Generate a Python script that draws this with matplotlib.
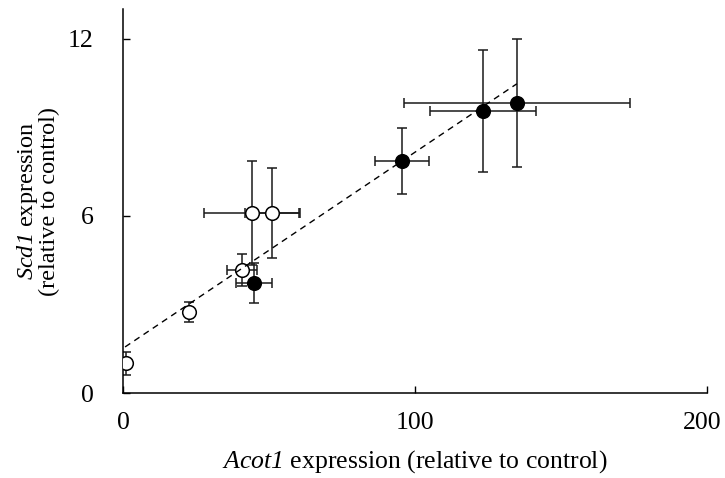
import matplotlib
matplotlib.use("Agg")
import matplotlib.pyplot as plt
from matplotlib.transforms import ScaledTranslation

# ---- data ----
open_x = [1.0, 22.6, 40.8, 44.2, 51.0]
open_y = [1.0, 2.75, 4.17, 6.1, 6.1]
open_xerr = [0.0, 0.0, 5.1, 16.5, 9.3]
open_yerr = [0.4, 0.33, 0.55, 1.76, 1.52]

filled_x = [44.9, 95.5, 123.3, 134.9]
filled_y = [3.73, 7.86, 9.56, 9.83]
filled_xerr = [6.3, 9.2, 18.2, 38.8]
filled_yerr = [0.68, 1.12, 2.06, 2.17]

trend_x = [0.7, 134.9]
trend_y = [1.56, 10.47]

x_ticks = [0, 100, 200]
y_ticks = [0, 6, 12]

plt.rcParams['font.family'] = ['Liberation Serif', 'DejaVu Serif']
plt.rcParams['mathtext.fontset'] = 'custom'
plt.rcParams['mathtext.sf'] = 'Liberation Serif:italic'
plt.rcParams['mathtext.rm'] = 'Liberation Serif'

FS = 18.5

fig = plt.figure(figsize=(7.25, 4.78), dpi=100)
ax = fig.add_axes([0.1697, 0.1778, 0.975 - 0.1697, 0.981 - 0.1778])

ec = '#1a1a1a'
ax.errorbar(open_x, open_y, xerr=open_xerr, yerr=open_yerr, fmt='none',
            ecolor=ec, elinewidth=1.1, capsize=3.6, capthick=1.1, zorder=2)
ax.errorbar(filled_x, filled_y, xerr=filled_xerr, yerr=filled_yerr, fmt='none',
            ecolor=ec, elinewidth=1.1, capsize=3.6, capthick=1.1, zorder=2)
ax.plot(open_x, open_y, 'o', ms=9.8, mfc='white', mec='black', mew=1.1, zorder=3)
ax.plot(filled_x, filled_y, 'o', ms=9.8, mfc='black', mec='black', mew=1.1, zorder=3)
ax.plot(trend_x, trend_y, color='black', lw=1.0, dashes=(4.5, 3.5), zorder=4)

ax.set_xlim(0, 200)
ax.set_ylim(0, 13)
ax.set_xticks(x_ticks)
ax.set_yticks(y_ticks)
ax.tick_params(direction='in', length=5, width=1.0, labelsize=FS, pad=14)
ax.tick_params(axis='y', pad=21)
for s in ['top', 'right']:
    ax.spines[s].set_visible(False)
for s in ['left', 'bottom']:
    ax.spines[s].set_linewidth(1.1)

# nudge the last x tick label left so it fits inside the figure
last_lbl = ax.get_xticklabels()[-1]
last_lbl.set_transform(last_lbl.get_transform() +
                       ScaledTranslation(-5 / 100, 0, fig.dpi_scale_trans))

ax.set_xlabel(r'$\mathsf{Acot1}$ expression (relative to control)', fontsize=FS, labelpad=10)
ax.set_ylabel('$\\mathsf{Scd1}$ expression\n(relative to control)', fontsize=17.5,
              labelpad=6, linespacing=0.92)

fig.savefig('out.png', dpi=100)
